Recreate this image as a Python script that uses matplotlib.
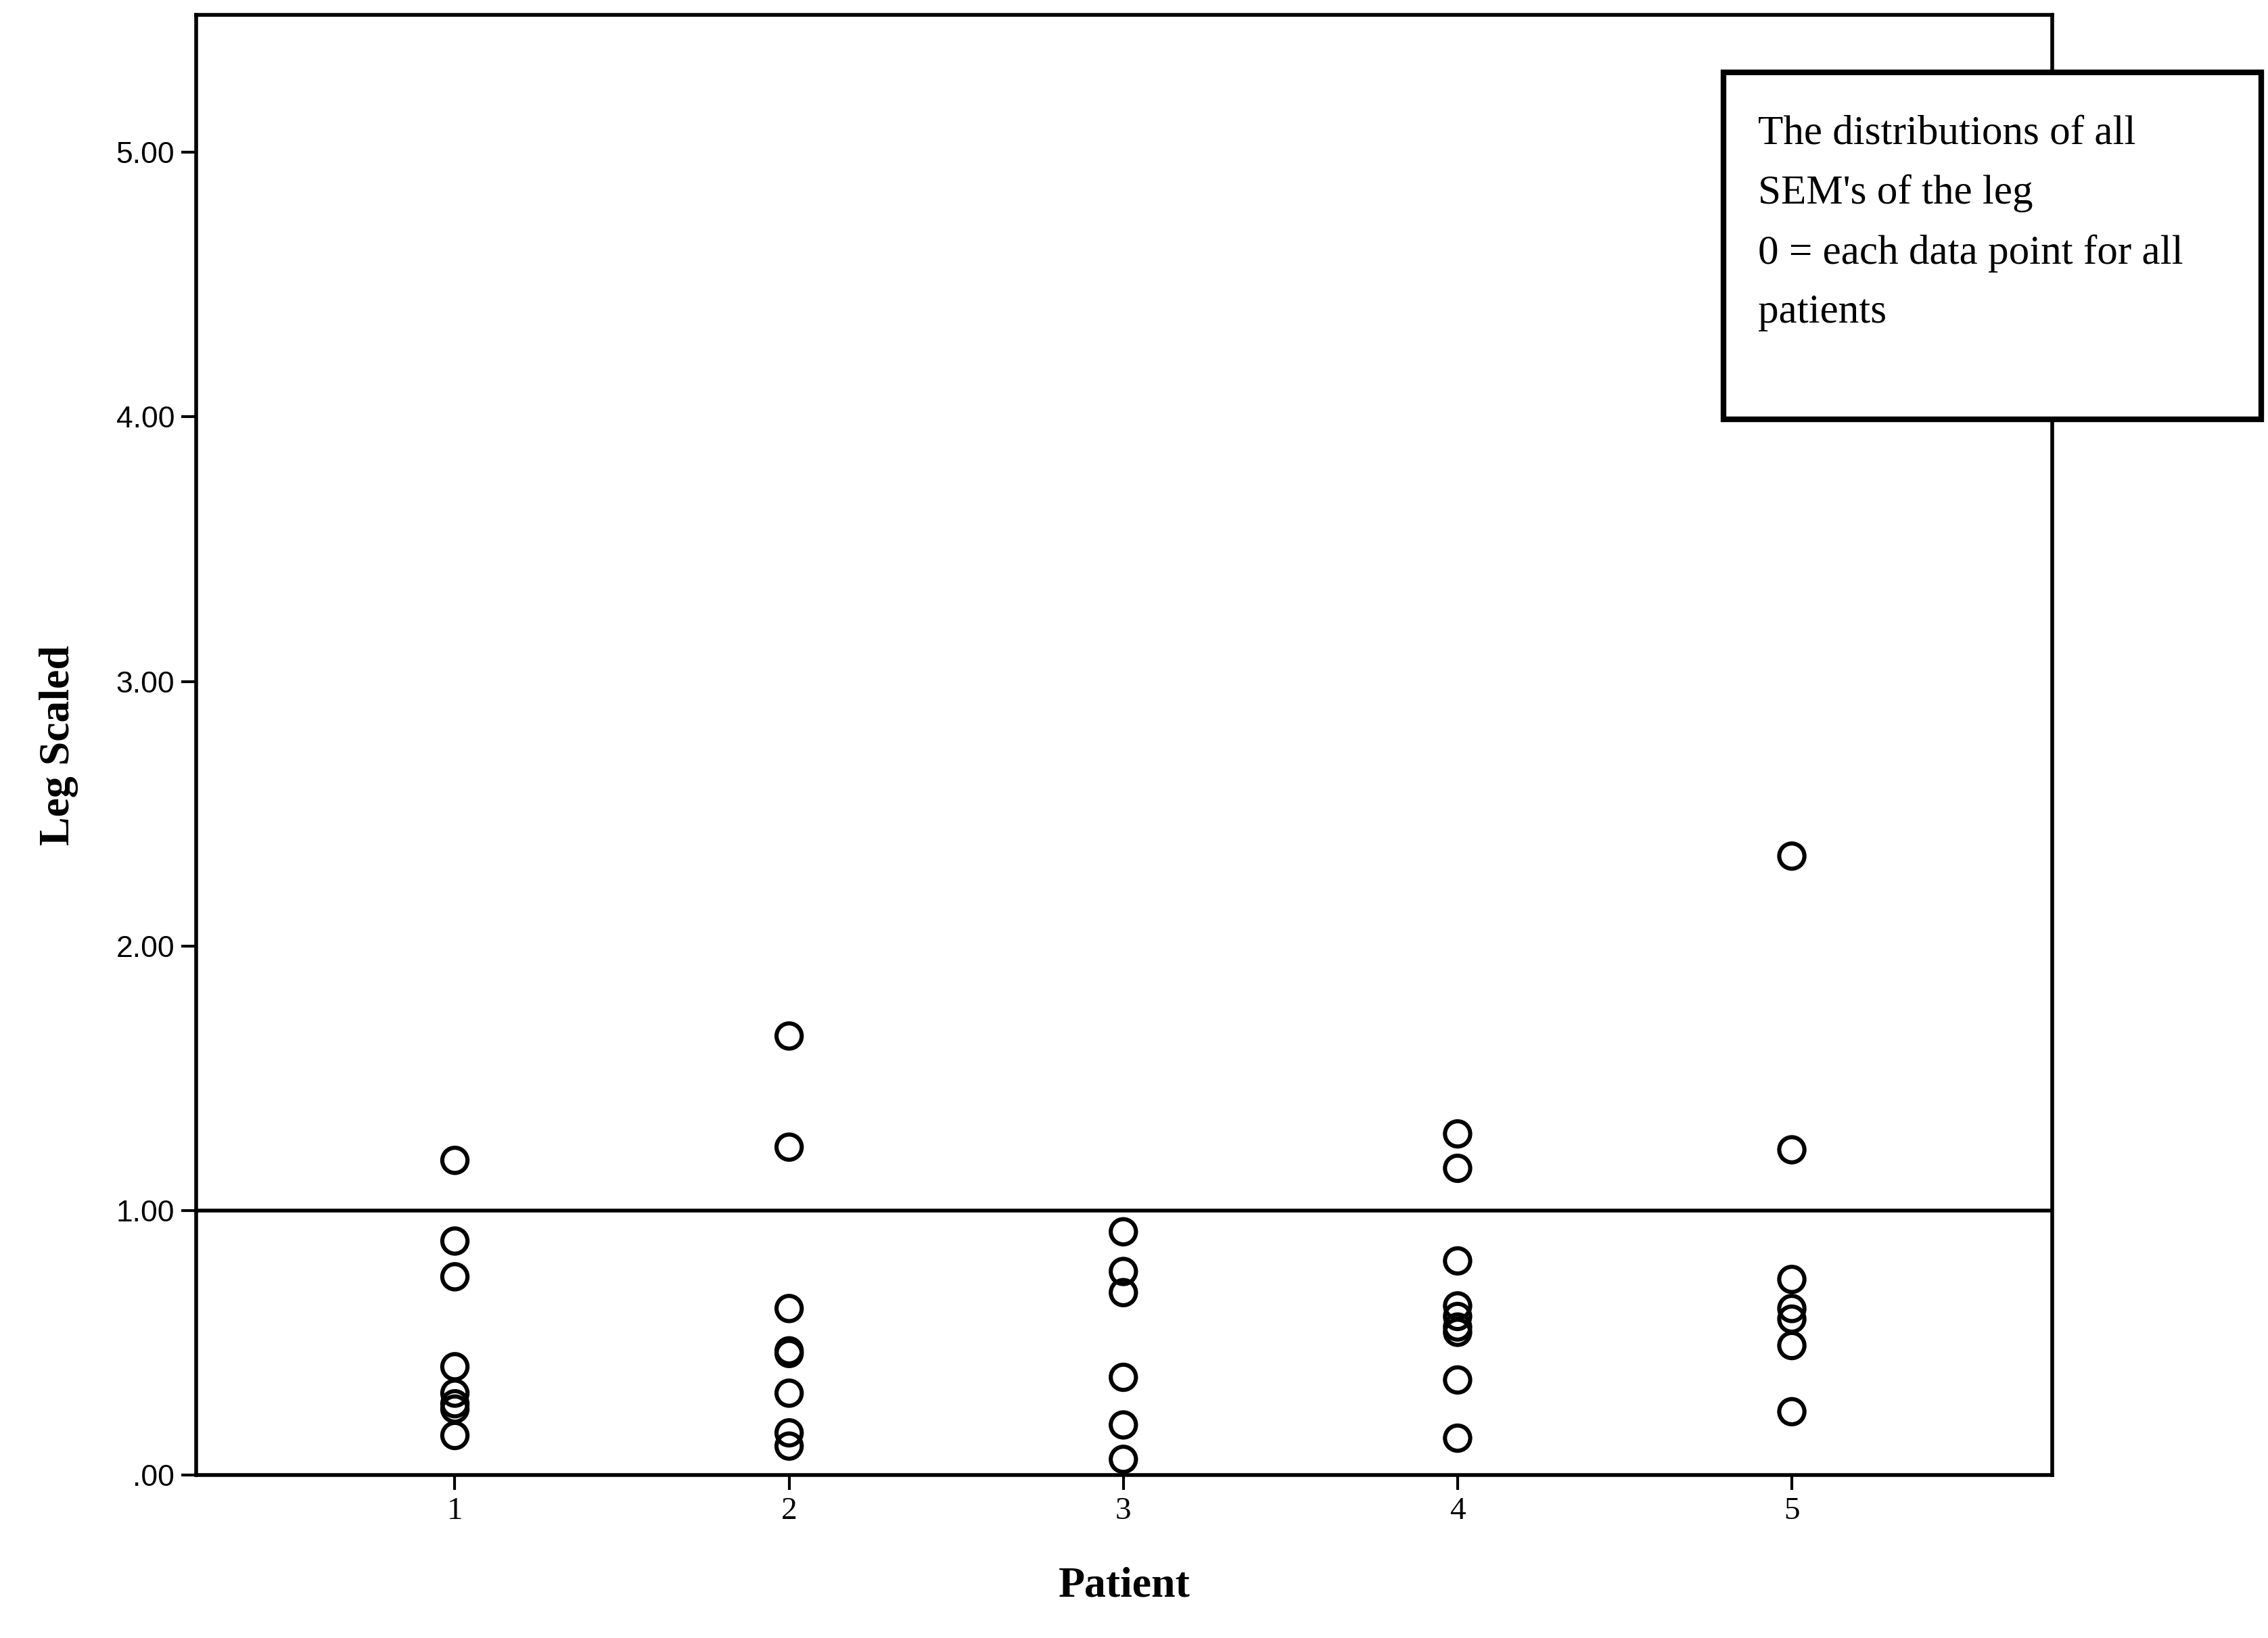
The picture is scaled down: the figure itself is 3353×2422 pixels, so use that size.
import matplotlib
matplotlib.use("Agg")
import matplotlib.pyplot as plt

patients = [1, 2, 3, 4, 5]
p1 = [1.19, 0.885, 0.75, 0.41, 0.31, 0.27, 0.25, 0.15]
p2 = [1.66, 1.24, 0.63, 0.47, 0.46, 0.31, 0.16, 0.11]
p3 = [0.92, 0.77, 0.69, 0.37, 0.19, 0.06]
p4 = [1.29, 1.16, 0.81, 0.64, 0.60, 0.56, 0.54, 0.36, 0.14]
p5 = [2.34, 1.23, 0.74, 0.63, 0.59, 0.49, 0.24]
values = [p1, p2, p3, p4, p5]
yticks = [0, 1, 2, 3, 4, 5]
ytick_labels = [".00", "1.00", "2.00", "3.00", "4.00", "5.00"]

fig = plt.figure(figsize=(16.765, 12.11), dpi=200)
ax = fig.add_axes([0.0865, 0.0994, 0.8185, 0.8916])
for p, v in zip(patients, values):
    ax.scatter([p] * len(v), v, s=180, facecolors="none", edgecolors="black", linewidths=2.2, zorder=3)
ax.axhline(1.0, color="black", lw=2)
ax.set_xlim(0.226, 5.78)
ax.set_ylim(0, 5.52)
ax.set_xticks(patients)
ax.set_xticklabels([str(p) for p in patients], fontfamily="Liberation Serif", fontsize=17)
ax.set_yticks(yticks)
ax.set_yticklabels(ytick_labels, fontfamily="Liberation Sans", fontsize=16)
ax.tick_params(length=8, width=1.5)
for s in ax.spines.values():
    s.set_linewidth(2)
ax.set_xlabel("Patient", fontfamily="Liberation Serif", fontweight="bold", fontsize=23, labelpad=22)
ax.set_ylabel("Leg Scaled", fontfamily="Liberation Serif", fontweight="bold", fontsize=23, labelpad=20)

fig.patches.append(plt.Rectangle((0.760, 0.744), 0.237, 0.212, transform=fig.transFigure,
                                 facecolor="white", edgecolor="black", lw=3, zorder=10))
fig.text(0.775, 0.930, "The distributions of all\nSEM's of the leg\n0 = each data point for all\npatients",
         fontfamily="Liberation Serif", fontsize=22, va="top", ha="left", linespacing=1.75, zorder=11)
fig.savefig("out.png", dpi=200)
